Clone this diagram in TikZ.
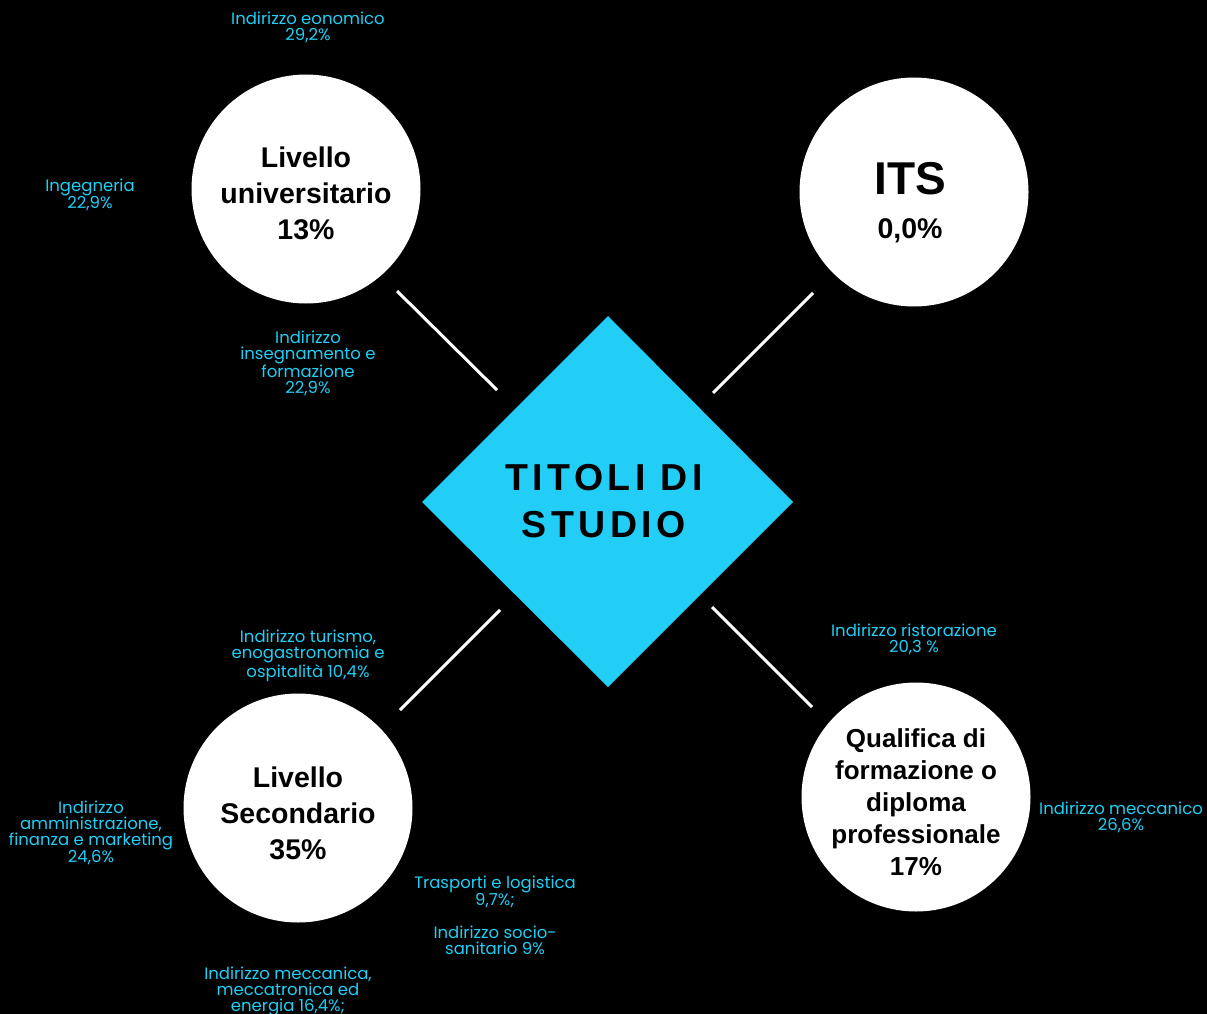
\documentclass[tikz,border=0pt]{standalone}
\usepackage{fontspec}
\setmainfont{Liberation Sans}
\newfontfamily\lblfont{Poppins}
\newfontfamily\spacedfont[LetterSpace=12]{Liberation Sans}
\usetikzlibrary{shapes.geometric}
\definecolor{cyanlbl}{RGB}{33,206,244}
\definecolor{diamondc}{RGB}{34,206,245}
\tikzset{
  bubble/.style={circle, fill=white, minimum size=229pt, inner sep=0pt},
  btext/.style={align=center, inner sep=0pt, text=black,
    font=\bfseries\fontsize{28.5}{36}\selectfont},
  lbl/.style={align=center, text=cyanlbl, inner sep=0pt, yshift=-2pt, font=\lblfont\fontsize{16.5}{16}\selectfont},
  link/.style={draw=white, line width=3pt}
}
\begin{document}
\begin{tikzpicture}[x=1pt,y=-1pt]
\fill[black] (0,0) rectangle (1207,1014);
\useasboundingbox (0,0) rectangle (1207,1014);
% diamond
\fill[diamondc] (608,316) -- (793,502) -- (608,687) -- (422,502) -- cycle;
\node[align=center, inner sep=0pt, font=\spacedfont\bfseries\fontsize{37.5}{47}\selectfont] (center) at (604,501) {TITOLI DI\\STUDIO};
% circles
\node[bubble] (univ) at (306,189) {};
\node[bubble] (its) at (914,192) {};
\node[bubble] (sec) at (298,808) {};
\node[bubble] (qual) at (916,797) {};
\node[btext] (univT) at (306,193) {Livello\\universitario\\13\%};
\node[btext, font=\bfseries\fontsize{46}{50}\selectfont] (itsT) at (910,179) {ITS};
\node[btext] (itsP) at (910,231) {0,0\%};
\node[btext] (secT) at (298,813) {Livello\\Secondario\\35\%};
\node[btext, font=\bfseries\fontsize{26}{32}\selectfont] (qualT) at (916,802) {Qualifica di\\formazione o\\diploma\\professionale\\17\%};
% connectors
\coordinate (a1) at (397,291); \coordinate (a2) at (497,390);
\coordinate (b1) at (813,293); \coordinate (b2) at (713,393);
\coordinate (c1) at (500,610); \coordinate (c2) at (400,710);
\coordinate (d1) at (712,607); \coordinate (d2) at (812,707);
\draw[link] (a1) -- (a2);
\draw[link] (b1) -- (b2);
\draw[link] (c1) -- (c2);
\draw[link] (d1) -- (d2);
% labels
\node[lbl] (l1) at (308,25) {Indirizzo eonomico\\29,2\%};
\node[lbl] (l2) at (90,193) {Ingegneria\\22,9\%};
\node[lbl] (l3) at (308,361) {Indirizzo\\insegnamento e\\formazione\\22,9\%};
\node[lbl] (l4) at (308,654) {Indirizzo turismo,\\enogastronomia e\\ospitalità 10,4\%};
\node[lbl] (l5) at (91,831) {Indirizzo\\amministrazione,\\finanza e marketing\\24,6\%};
\node[lbl] (l6) at (495,890) {Trasporti e logistica\\9,7\%;};
\node[lbl] (l7) at (495,938) {Indirizzo socio-\\sanitario 9\%};
\node[lbl] (l8) at (288,989) {Indirizzo meccanica,\\meccatronica ed\\energia 16,4\%;};
\node[lbl] (l9) at (914,637) {Indirizzo ristorazione\\20,3 \%};
\node[lbl] (l10) at (1121,815) {Indirizzo meccanico\\26,6\%};
\end{tikzpicture}
\end{document}
